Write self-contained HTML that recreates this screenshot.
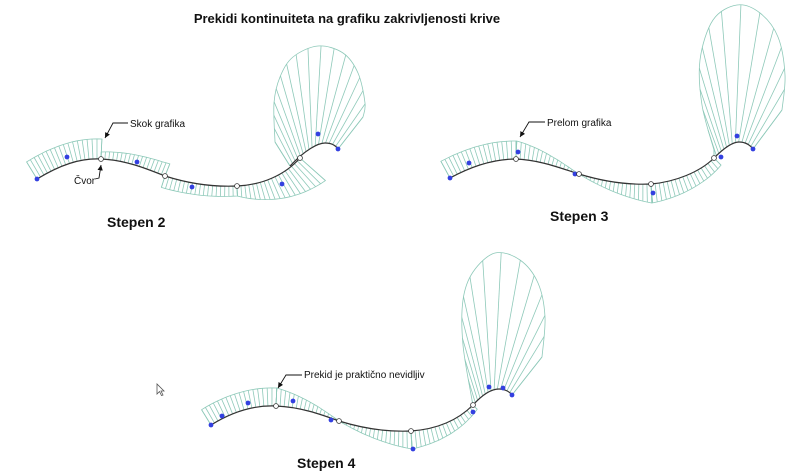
<!DOCTYPE html>
<html><head><meta charset="utf-8"><style>
body{margin:0;background:#fff;width:800px;height:472px;overflow:hidden}
svg{display:block}
text{font-family:"Liberation Sans",sans-serif;fill:#111}
</style></head><body>
<svg id="s" width="800" height="472" viewBox="0 0 800 472" xmlns="http://www.w3.org/2000/svg">
<defs><marker id="ar" markerWidth="8" markerHeight="8" refX="6" refY="3" orient="auto"><path d="M0,0 L6,3 L0,6 z" fill="#111"/></marker></defs>
<g id="hatch" stroke="#8ec9b9" stroke-width="0.8" fill="none"></g>
<g id="curves" stroke="#333" stroke-width="1.2" fill="none"></g>
<g id="dots"></g>
<text x="347" y="23" font-size="13" font-weight="bold" text-anchor="middle">Prekidi kontinuiteta na grafiku zakrivljenosti krive</text>
<text x="107" y="227" font-size="14" font-weight="bold">Stepen 2</text>
<text x="550" y="221" font-size="14" font-weight="bold">Stepen 3</text>
<text x="297" y="468" font-size="14" font-weight="bold">Stepen 4</text>
<g stroke="#111" stroke-width="0.9" fill="none">
<polyline points="128,123 113,123 105,138" marker-end="url(#ar)"/>
<polyline points="95,179 99,178 101,165" marker-end="url(#ar)"/>
<polyline points="545,122 529,122 520,137" marker-end="url(#ar)"/>
<polyline points="302,375 286,375 278,388" marker-end="url(#ar)"/>
</g>
<text x="130" y="127" font-size="10">Skok grafika</text>
<text x="74" y="184" font-size="10">Čvor</text>
<text x="547" y="126" font-size="10">Prelom grafika</text>
<text x="304" y="378" font-size="10">Prekid je praktično nevidljiv</text>
<path d="M157,384 L157,394 L159.5,391.5 L161.5,395.5 L163,395 L161,391 L164,391 z" fill="#fff" stroke="#555" stroke-width="0.8"/>
</svg>
<script>
var NS="http://www.w3.org/2000/svg";
var H=document.getElementById('hatch'),C=document.getElementById('curves'),D=document.getElementById('dots');
function el(p,t,a){var e=document.createElementNS(NS,t);for(var k in a)e.setAttribute(k,a[k]);p.appendChild(e);return e;}
function seg(d,a,b,c,step){
 var p=el(C,'path',{d:d});var L=p.getTotalLength();var n=Math.max(2,Math.round(L/(step||4)));
 var out=[];var first=null,last=null;
 for(var i=0;i<=n;i++){var s=L*i/n,t=i/n;var q=p.getPointAtLength(s);
  var q1=p.getPointAtLength(Math.max(0,s-0.5)),q2=p.getPointAtLength(Math.min(L,s+0.5));
  var dx=q2.x-q1.x,dy=q2.y-q1.y,m=Math.hypot(dx,dy)||1;var nx=-dy/m,ny=dx/m;
  var o=a+(b-a)*t+c*Math.sin(Math.PI*t);
  var x=q.x+nx*o,y=q.y+ny*o;out.push(x.toFixed(1)+','+y.toFixed(1));
  el(H,'line',{x1:q.x,y1:q.y,x2:x,y2:y});
  if(i==0)first=[q.x,q.y];last=[q.x,q.y];}
 el(H,'polyline',{points:first.join(',')+' '+out.join(' ')+' '+last.join(',')});
}
function cr(P){var s="M"+P[0].join(',');
 for(var i=0;i<P.length-1;i++){var p0=P[Math.max(0,i-1)],p1=P[i],p2=P[i+1],p3=P[Math.min(P.length-1,i+2)];
  var c1=[p1[0]+(p2[0]-p0[0])/6,p1[1]+(p2[1]-p0[1])/6],c2=[p2[0]-(p3[0]-p1[0])/6,p2[1]-(p3[1]-p1[1])/6];
  s+=" C"+c1.join(',')+" "+c2.join(',')+" "+p2.join(',');}
 return s;}
function lobe(d,pts,n){
 var p=el(C,'path',{d:d});var L=p.getTotalLength();
 var o=el(H,'path',{d:cr(pts)});var M=o.getTotalLength();
 for(var i=0;i<=n;i++){var t=i/n;var a=p.getPointAtLength(L*t),b=o.getPointAtLength(M*t);
  el(H,'line',{x1:a.x,y1:a.y,x2:b.x,y2:b.y});}
 var a0=p.getPointAtLength(0),a1=p.getPointAtLength(L);
 el(H,'line',{x1:a0.x,y1:a0.y,x2:pts[0][0],y2:pts[0][1]});
 el(H,'line',{x1:a1.x,y1:a1.y,x2:pts[pts.length-1][0],y2:pts[pts.length-1][1]});
}
function dots(b,k){b.forEach(function(p){el(D,'circle',{cx:p[0],cy:p[1],r:2.4,fill:'#3340e0'})});
 k.forEach(function(p){el(D,'circle',{cx:p[0],cy:p[1],r:2.4,fill:'#fff',stroke:'#333','stroke-width':0.8})});}
// Stepen 2
seg("M37,179 C60,165 80,158 101,159",-20,-20,0);
seg("M101,159 C125,160 145,168 165,176",-7,-13,0);
seg("M165,176 C190,184 215,187 237,186",12,10,0);
seg("M237,186 C262,185 285,175 300,158",10,34,0);
lobe("M290,166 C305,150 318,143 325,143 C332,143 336,146 338,149",
 [[275,142],[274,103],[280,77],[293,57],[318,46],[343,53],[358,73],[365,103],[363,117]],16);
dots([[37,179],[67,157],[137,162],[192,187],[282,184],[318,134],[338,149]],[[101,159],[165,176],[237,186],[300,158]]);
// Stepen 3
seg("M450,178 C472,166 494,159 516,159",-19,-18,0);
seg("M516,159 C540,160 560,168 579,174",-18,0,0);
seg("M579,174 C605,182 630,185 651,184",0,19,0);
seg("M651,184 C675,182 700,172 714,158",19,10,0);
lobe("M714,158 C725,147 733,142 739,142 C745,142 750,145 753,149",
 [[714,150],[702,105],[700,60],[713,20],[737,5],[760,13],[778,37],[785,75],[782,110]],14);
dots([[450,178],[469,163],[518,152],[575,174],[653,193],[721,157],[737,136],[753,149]],[[516,159],[579,174],[651,184],[714,158]]);
// Stepen 4
seg("M211,425 C232,412 254,405 276,406",-18,-18,0);
seg("M276,406 C300,407 320,414 339,421",-18,0,0);
seg("M339,421 C365,429 390,432 411,431",0,18,0);
seg("M411,431 C440,429 460,418 473,405",18,6,0);
lobe("M473,405 C483,394 492,389 499,389 C505,389 510,392 512,395",
 [[472,400],[463,345],[463,300],[473,272],[495,253],[520,260],[538,283],[545,317],[542,357]],14);
dots([[211,425],[222,416],[248,403],[293,401],[331,420],[413,449],[473,412],[489,387],[503,388],[512,395]],[[276,406],[339,421],[411,431],[473,405]]);
</script>
</body></html>
